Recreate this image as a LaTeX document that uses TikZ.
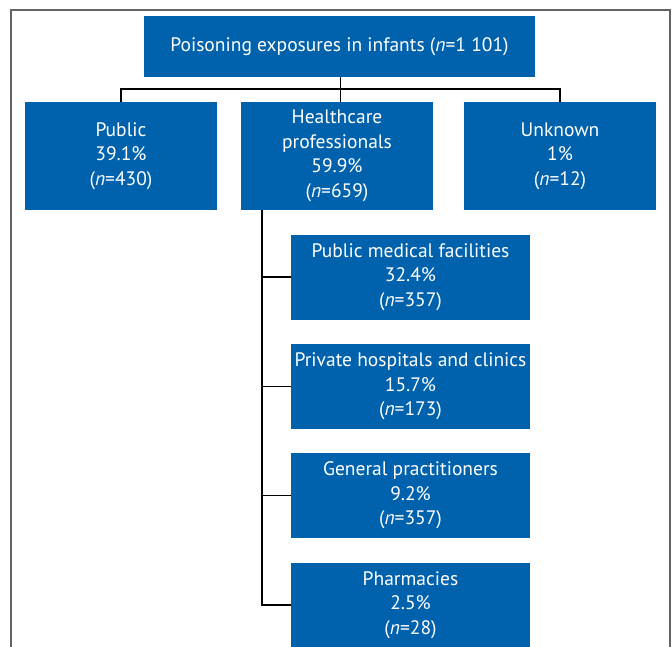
\documentclass[tikz,border=0pt]{standalone}
\usepackage{fontspec}
\setmainfont{PT Sans}
\definecolor{boxblue}{RGB}{0,98,172}
\definecolor{framegray}{RGB}{100,100,100}
\begin{document}
\begin{tikzpicture}[x=1pt,y=-1pt,
  box/.style={fill=boxblue,text=white,align=center,inner sep=0pt,
    font=\fontsize{19.5}{24.5}\selectfont},
  conn/.style={draw=black,line width=1.3pt}]
\useasboundingbox (0,0) rectangle (672,646);
\fill[white] (0,0) rectangle (672,646);
\draw[framegray,line width=1.3pt] (11,650) -- (11,10) -- (670,10) -- (670,650);
\node[box,minimum width=391pt,minimum height=61pt] (top) at (339.5,46.5) {Poisoning exposures in infants (\textit{n}=1 101)};
\node[box,minimum width=192pt,minimum height=108pt] (pub) at (121,156) {Public\\39.1\%\\(\textit{n}=430)};
\node[box,minimum width=192pt,minimum height=108pt] (hc) at (337,156) {Healthcare\\professionals\\59.9\%\\(\textit{n}=659)};
\node[box,minimum width=192pt,minimum height=108pt] (unk) at (560,156) {Unknown\\1\%\\(\textit{n}=12)};
\node[box,minimum width=239pt,minimum height=85pt] (pmf) at (410.5,277) {Public medical facilities\\32.4\%\\(\textit{n}=357)};
\node[box,minimum width=239pt,minimum height=85pt] (prv) at (410.5,386.5) {Private hospitals and clinics\\15.7\%\\(\textit{n}=173)};
\node[box,minimum width=239pt,minimum height=85pt] (gp) at (410.5,495.5) {General practitioners\\9.2\%\\(\textit{n}=357)};
\node[box,minimum width=239pt,minimum height=85pt] (ph) at (410.5,605) {Pharmacies\\2.5\%\\(\textit{n}=28)};
\coordinate (bus) at (0,89);
\coordinate (trunk) at (262,0);
\coordinate (hcin) at (340.5,0);
\draw[conn] (hcin |- top.south) -- (hcin |- hc.north);
\draw[conn] (pub.north) -- (pub.north |- bus) -- (unk.north |- bus) -- (unk.north);
\draw[conn] (trunk |- hc.south) -- (trunk |- ph.west) -- (ph.west);
\draw[conn] (trunk |- pmf.west) -- (pmf.west);
\draw[conn] (trunk |- prv.west) -- (prv.west);
\draw[conn] (trunk |- gp.west) -- (gp.west);
\end{tikzpicture}
\end{document}
